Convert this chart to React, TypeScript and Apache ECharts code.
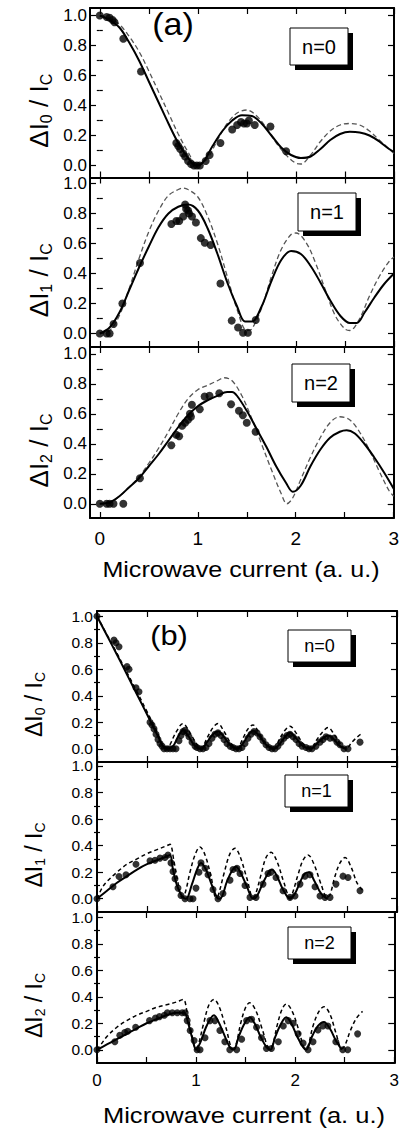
import React, { useEffect, useRef } from "react";
import * as echarts from "echarts";

// ---------- tick / label values ----------
const yMajorTicks = [0, 0.2, 0.4, 0.6, 0.8, 1.0];
const yMinorTicks = [0.1, 0.3, 0.5, 0.7, 0.9];
const xTicks = [0, 0.5, 1, 1.5, 2, 2.5, 3];
const xLabelValues = [0, 1, 2, 3];
const panelNames = ["n=0", "n=1", "n=2"];
const panelSubs = ["0", "1", "2"];
const figLabels = ["(a)", "(b)"];
const xTitle = "Microwave current (a. u.)";

// ---------- figure (a) ----------
const a1Scatter = [[0, 1.0], [0.07, 0.99], [0.1, 0.985], [0.13, 0.97], [0.15, 0.955], [0.24, 0.845], [0.42, 0.627], [0.78, 0.15], [0.8, 0.13], [0.82, 0.11], [0.85, 0.08], [0.87, 0.06], [0.9, 0.03], [0.93, 0.01], [0.96, 0.0], [0.99, 0.0], [1.02, 0.0], [1.08, 0.03], [1.12, 0.07], [1.23, 0.15], [1.35, 0.24], [1.4, 0.27], [1.44, 0.29], [1.47, 0.28], [1.5, 0.28], [1.52, 0.3], [1.58, 0.27], [1.74, 0.26], [1.9, 0.095]];
const a1Solid = [[0, 1.0], [0.1, 0.97], [0.2, 0.92], [0.3, 0.82], [0.4, 0.7], [0.5, 0.56], [0.6, 0.42], [0.7, 0.28], [0.8, 0.15], [0.9, 0.05], [0.98, 0.0], [1.05, 0.02], [1.15, 0.13], [1.25, 0.23], [1.35, 0.3], [1.45, 0.335], [1.55, 0.33], [1.65, 0.28], [1.75, 0.2], [1.85, 0.12], [1.95, 0.07], [2.05, 0.05], [2.15, 0.06], [2.25, 0.11], [2.35, 0.17], [2.45, 0.21], [2.55, 0.225], [2.65, 0.22], [2.75, 0.2], [2.85, 0.16], [2.95, 0.11], [3.0, 0.09]];
const a1Dashed = [[0, 1.0], [0.1, 0.98], [0.2, 0.94], [0.3, 0.86], [0.4, 0.76], [0.5, 0.63], [0.6, 0.49], [0.7, 0.35], [0.8, 0.21], [0.9, 0.09], [1.0, 0.0], [1.1, 0.05], [1.2, 0.17], [1.3, 0.28], [1.4, 0.35], [1.5, 0.37], [1.6, 0.33], [1.7, 0.25], [1.8, 0.15], [1.9, 0.07], [2.0, 0.015], [2.05, 0.01], [2.15, 0.07], [2.25, 0.16], [2.35, 0.23], [2.45, 0.27], [2.55, 0.28], [2.65, 0.27], [2.75, 0.23], [2.85, 0.17], [2.95, 0.11], [3.0, 0.08]];

const a2Scatter = [[0, 0.0], [0.07, 0.0], [0.1, 0.0], [0.14, 0.063], [0.23, 0.2], [0.41, 0.47], [0.73, 0.73], [0.78, 0.75], [0.81, 0.75], [0.85, 0.78], [0.87, 0.86], [0.88, 0.83], [0.9, 0.82], [0.91, 0.8], [0.94, 0.78], [0.98, 0.74], [1.03, 0.636], [1.07, 0.605], [1.13, 0.59], [1.23, 0.333], [1.345, 0.086], [1.41, 0.04], [1.46, 0.005], [1.51, 0.005], [1.59, 0.09]];
const a2Solid = [[0, 0.0], [0.1, 0.04], [0.2, 0.14], [0.3, 0.29], [0.4, 0.44], [0.5, 0.58], [0.6, 0.71], [0.7, 0.8], [0.8, 0.845], [0.9, 0.86], [1.0, 0.82], [1.1, 0.7], [1.2, 0.53], [1.3, 0.34], [1.4, 0.18], [1.48, 0.08], [1.55, 0.08], [1.65, 0.18], [1.75, 0.35], [1.85, 0.49], [1.95, 0.55], [2.05, 0.53], [2.15, 0.45], [2.25, 0.34], [2.35, 0.22], [2.45, 0.12], [2.55, 0.07], [2.62, 0.07], [2.7, 0.14], [2.8, 0.24], [2.9, 0.33], [3.0, 0.4]];
const a2Dashed = [[0, 0.0], [0.1, 0.02], [0.2, 0.12], [0.3, 0.3], [0.4, 0.5], [0.5, 0.68], [0.6, 0.82], [0.7, 0.92], [0.8, 0.96], [0.85, 0.97], [0.9, 0.96], [1.0, 0.91], [1.1, 0.78], [1.2, 0.6], [1.3, 0.38], [1.4, 0.16], [1.5, 0.02], [1.55, 0.03], [1.65, 0.17], [1.75, 0.38], [1.85, 0.56], [1.95, 0.66], [2.0, 0.67], [2.1, 0.61], [2.2, 0.47], [2.3, 0.29], [2.4, 0.12], [2.5, 0.03], [2.55, 0.02], [2.65, 0.1], [2.75, 0.25], [2.85, 0.38], [2.95, 0.48], [3.0, 0.51]];

const a3Scatter = [[0, 0.0], [0.07, 0.0], [0.1, 0.0], [0.14, 0.0], [0.24, 0.0], [0.41, 0.17], [0.73, 0.39], [0.78, 0.46], [0.81, 0.45], [0.84, 0.52], [0.87, 0.54], [0.9, 0.56], [0.92, 0.6], [0.94, 0.66], [0.93, 0.58], [1.02, 0.63], [1.07, 0.715], [1.12, 0.72], [1.22, 0.737], [1.34, 0.663], [1.42, 0.62], [1.46, 0.59], [1.5, 0.54], [1.59, 0.48]];
const a3Solid = [[0, 0.0], [0.1, 0.01], [0.2, 0.05], [0.3, 0.11], [0.4, 0.17], [0.5, 0.25], [0.6, 0.33], [0.7, 0.42], [0.8, 0.51], [0.9, 0.59], [1.0, 0.65], [1.1, 0.69], [1.2, 0.72], [1.3, 0.745], [1.35, 0.745], [1.4, 0.72], [1.5, 0.62], [1.6, 0.5], [1.7, 0.38], [1.8, 0.25], [1.9, 0.14], [1.97, 0.08], [2.05, 0.12], [2.15, 0.25], [2.25, 0.36], [2.35, 0.44], [2.45, 0.48], [2.52, 0.49], [2.6, 0.47], [2.7, 0.4], [2.8, 0.31], [2.9, 0.21], [3.0, 0.1]];
const a3Dashed = [[0, 0.0], [0.1, 0.005], [0.2, 0.05], [0.3, 0.11], [0.4, 0.18], [0.5, 0.27], [0.6, 0.37], [0.7, 0.48], [0.8, 0.6], [0.9, 0.7], [1.0, 0.76], [1.1, 0.79], [1.2, 0.82], [1.27, 0.84], [1.35, 0.82], [1.45, 0.72], [1.55, 0.57], [1.65, 0.4], [1.75, 0.23], [1.85, 0.07], [1.91, 0.0], [1.97, 0.04], [2.05, 0.16], [2.15, 0.31], [2.25, 0.44], [2.35, 0.54], [2.45, 0.58], [2.55, 0.56], [2.65, 0.48], [2.75, 0.36], [2.85, 0.22], [2.95, 0.09], [3.0, 0.05]];

// ---------- figure (b) ----------
const b1Scatter = [[0, 1.0], [0.17, 0.82], [0.19, 0.8], [0.22, 0.77], [0.3, 0.62], [0.32, 0.6], [0.39, 0.46], [0.42, 0.43], [0.53, 0.2], [0.55, 0.18], [0.57, 0.15], [0.59, 0.11], [0.61, 0.07], [0.63, 0.04], [0.65, 0.02], [0.67, 0.0], [0.7, 0.0], [0.73, 0.0], [0.76, 0.0], [0.79, 0.0], [0.82, 0.06], [0.84, 0.1], [0.86, 0.13], [0.88, 0.14], [0.9, 0.12], [0.92, 0.09], [0.95, 0.05], [0.98, 0.02], [1.0, 0.01], [1.03, 0.0], [1.06, 0.0], [1.09, 0.01], [1.12, 0.04], [1.15, 0.08], [1.18, 0.11], [1.21, 0.12], [1.24, 0.1], [1.27, 0.07], [1.3, 0.04], [1.33, 0.02], [1.36, 0.01], [1.39, 0.0], [1.42, 0.0], [1.45, 0.01], [1.48, 0.04], [1.51, 0.08], [1.54, 0.11], [1.57, 0.13], [1.6, 0.12], [1.63, 0.09], [1.66, 0.06], [1.69, 0.03], [1.72, 0.01], [1.75, 0.0], [1.78, 0.0], [1.81, 0.02], [1.84, 0.05], [1.87, 0.08], [1.9, 0.1], [1.93, 0.11], [1.96, 0.09], [1.99, 0.07], [2.02, 0.04], [2.05, 0.02], [2.09, 0.01], [2.12, 0.0], [2.15, 0.0], [2.19, 0.02], [2.23, 0.05], [2.26, 0.07], [2.29, 0.09], [2.33, 0.08], [2.37, 0.08], [2.4, 0.05], [2.43, 0.03], [2.47, 0.0], [2.51, 0.0], [2.63, 0.05]];
const b1Solid = [[0, 1.0], [0.1, 0.855], [0.2, 0.71], [0.3, 0.56], [0.4, 0.41], [0.5, 0.26], [0.6, 0.11], [0.66, 0.02], [0.7, 0.0], [0.76, 0.02], [0.81, 0.09], [0.86, 0.14], [0.91, 0.1], [0.97, 0.03], [1.04, 0.0], [1.1, 0.05], [1.16, 0.11], [1.21, 0.13], [1.27, 0.09], [1.33, 0.03], [1.4, 0.0], [1.46, 0.04], [1.51, 0.1], [1.56, 0.135], [1.62, 0.1], [1.69, 0.03], [1.77, 0.0], [1.83, 0.04], [1.88, 0.09], [1.93, 0.12], [1.99, 0.08], [2.06, 0.02], [2.14, 0.0], [2.2, 0.04], [2.26, 0.08], [2.31, 0.1], [2.37, 0.07], [2.43, 0.02], [2.49, 0.0]];
const b1Dashed = [[0, 1.0], [0.1, 0.86], [0.2, 0.72], [0.3, 0.575], [0.4, 0.43], [0.5, 0.28], [0.6, 0.13], [0.68, 0.01], [0.72, 0.02], [0.78, 0.11], [0.86, 0.19], [0.93, 0.12], [1.0, 0.03], [1.04, 0.0], [1.1, 0.08], [1.16, 0.16], [1.21, 0.19], [1.27, 0.13], [1.34, 0.04], [1.4, 0.0], [1.46, 0.08], [1.51, 0.15], [1.56, 0.18], [1.62, 0.12], [1.7, 0.03], [1.77, 0.0], [1.83, 0.08], [1.88, 0.14], [1.93, 0.17], [1.99, 0.12], [2.07, 0.03], [2.14, 0.0], [2.2, 0.07], [2.26, 0.13], [2.31, 0.16], [2.37, 0.11], [2.44, 0.03], [2.49, 0.0], [2.55, 0.05], [2.62, 0.1], [2.66, 0.12]];

const b2Scatter = [[0, 0.0], [0.16, 0.09], [0.22, 0.167], [0.29, 0.18], [0.39, 0.26], [0.53, 0.286], [0.58, 0.29], [0.63, 0.306], [0.68, 0.31], [0.71, 0.33], [0.74, 0.27], [0.76, 0.205], [0.78, 0.15], [0.81, 0.08], [0.84, 0.025], [0.88, 0.0], [0.93, 0.0], [0.96, 0.0], [0.99, 0.08], [1.02, 0.2], [1.04, 0.27], [1.08, 0.23], [1.11, 0.18], [1.16, 0.07], [1.21, 0.0], [1.26, 0.04], [1.33, 0.14], [1.36, 0.22], [1.4, 0.23], [1.43, 0.19], [1.48, 0.1], [1.53, 0.01], [1.59, 0.01], [1.66, 0.11], [1.71, 0.19], [1.74, 0.2], [1.79, 0.16], [1.86, 0.06], [1.93, 0.01], [1.98, 0.02], [2.03, 0.11], [2.08, 0.17], [2.13, 0.18], [2.18, 0.09], [2.23, 0.02], [2.28, 0.01], [2.33, 0.01], [2.39, 0.11], [2.46, 0.17], [2.51, 0.16], [2.63, 0.06]];
const b2Solid = [[0, 0.0], [0.05, 0.03], [0.1, 0.06], [0.2, 0.12], [0.3, 0.17], [0.4, 0.22], [0.5, 0.26], [0.6, 0.29], [0.7, 0.32], [0.73, 0.33], [0.76, 0.22], [0.8, 0.1], [0.85, 0.02], [0.89, 0.0], [0.95, 0.11], [1.0, 0.22], [1.04, 0.27], [1.09, 0.22], [1.14, 0.12], [1.2, 0.01], [1.23, 0.0], [1.3, 0.13], [1.35, 0.21], [1.39, 0.24], [1.44, 0.19], [1.5, 0.09], [1.56, 0.0], [1.6, 0.02], [1.66, 0.12], [1.71, 0.19], [1.75, 0.22], [1.8, 0.17], [1.86, 0.07], [1.93, 0.0], [1.98, 0.04], [2.04, 0.14], [2.08, 0.19], [2.12, 0.2], [2.17, 0.14], [2.24, 0.04], [2.3, 0.0]];
const b2Dashed = [[0, 0.0], [0.05, 0.08], [0.1, 0.13], [0.2, 0.2], [0.3, 0.26], [0.4, 0.3], [0.5, 0.34], [0.6, 0.37], [0.7, 0.4], [0.73, 0.41], [0.77, 0.28], [0.81, 0.12], [0.85, 0.01], [0.88, 0.04], [0.93, 0.2], [0.98, 0.33], [1.03, 0.39], [1.08, 0.33], [1.14, 0.17], [1.19, 0.01], [1.21, 0.02], [1.27, 0.19], [1.33, 0.34], [1.38, 0.38], [1.43, 0.32], [1.5, 0.15], [1.56, 0.01], [1.58, 0.02], [1.64, 0.18], [1.69, 0.31], [1.74, 0.35], [1.8, 0.28], [1.87, 0.12], [1.93, 0.01], [1.95, 0.03], [2.01, 0.18], [2.06, 0.29], [2.11, 0.33], [2.17, 0.26], [2.24, 0.11], [2.3, 0.01], [2.33, 0.03], [2.38, 0.17], [2.43, 0.27], [2.48, 0.31], [2.54, 0.24], [2.6, 0.12], [2.66, 0.06]];

const b3Scatter = [[0, 0.0], [0.18, 0.06], [0.23, 0.11], [0.28, 0.13], [0.31, 0.14], [0.39, 0.17], [0.53, 0.22], [0.59, 0.24], [0.63, 0.25], [0.68, 0.26], [0.71, 0.28], [0.76, 0.28], [0.81, 0.28], [0.86, 0.28], [0.89, 0.28], [0.91, 0.22], [0.94, 0.145], [0.98, 0.07], [1.01, 0.0], [1.04, 0.0], [1.09, 0.09], [1.14, 0.22], [1.19, 0.22], [1.24, 0.145], [1.29, 0.06], [1.34, 0.0], [1.41, 0.0], [1.46, 0.08], [1.51, 0.22], [1.56, 0.23], [1.61, 0.17], [1.66, 0.09], [1.71, 0.01], [1.76, 0.01], [1.83, 0.06], [1.88, 0.18], [1.93, 0.22], [1.98, 0.2], [2.03, 0.12], [2.08, 0.05], [2.13, 0.0], [2.18, 0.06], [2.23, 0.15], [2.28, 0.18], [2.33, 0.18], [2.41, 0.06], [2.48, 0.0], [2.53, 0.0], [2.63, 0.12]];
const b3Solid = [[0, 0.0], [0.1, 0.04], [0.2, 0.08], [0.3, 0.12], [0.4, 0.16], [0.5, 0.2], [0.6, 0.23], [0.7, 0.26], [0.8, 0.28], [0.88, 0.28], [0.92, 0.2], [0.96, 0.09], [1.0, 0.0], [1.04, 0.05], [1.1, 0.17], [1.15, 0.24], [1.18, 0.26], [1.22, 0.22], [1.28, 0.12], [1.34, 0.02], [1.38, 0.0], [1.43, 0.1], [1.49, 0.2], [1.54, 0.245], [1.59, 0.2], [1.65, 0.1], [1.71, 0.02], [1.75, 0.0], [1.8, 0.1], [1.86, 0.2], [1.91, 0.245], [1.96, 0.2], [2.02, 0.1], [2.08, 0.02], [2.11, 0.0], [2.17, 0.1], [2.23, 0.18], [2.29, 0.21], [2.35, 0.16], [2.41, 0.07], [2.47, 0.0]];
const b3Dashed = [[0, 0.0], [0.05, 0.05], [0.1, 0.1], [0.2, 0.17], [0.3, 0.22], [0.4, 0.26], [0.5, 0.29], [0.6, 0.32], [0.7, 0.34], [0.8, 0.36], [0.87, 0.38], [0.91, 0.28], [0.95, 0.14], [1.0, 0.01], [1.02, 0.03], [1.08, 0.21], [1.13, 0.34], [1.18, 0.38], [1.23, 0.33], [1.3, 0.17], [1.37, 0.01], [1.4, 0.03], [1.45, 0.2], [1.5, 0.32], [1.54, 0.355], [1.6, 0.3], [1.67, 0.15], [1.74, 0.01], [1.77, 0.03], [1.82, 0.19], [1.87, 0.31], [1.91, 0.345], [1.97, 0.29], [2.04, 0.14], [2.1, 0.01], [2.13, 0.03], [2.18, 0.18], [2.24, 0.29], [2.29, 0.325], [2.35, 0.27], [2.41, 0.13], [2.47, 0.01], [2.5, 0.03], [2.56, 0.15], [2.62, 0.24], [2.68, 0.29]];

const FONT = '"Liberation Sans", Arial, Helvetica, sans-serif';

type Panel = {
  fig: number; n: number; left: number; top: number; width: number; height: number;
  xMin: number; xMax: number; yMin: number; yMax: number;
  scatter: number[][]; solid: number[][]; dashed: number[][];
  box: [number, number, number, number];
};

const panels: Panel[] = [
  { fig: 0, n: 0, left: 90, top: 8, width: 304, height: 169.5, xMin: -0.1, xMax: 3, yMin: -0.08, yMax: 1.05, scatter: a1Scatter, solid: a1Solid, dashed: a1Dashed, box: [290, 28, 58, 37] },
  { fig: 0, n: 1, left: 90, top: 177.5, width: 304, height: 169.5, xMin: -0.1, xMax: 3, yMin: -0.09, yMax: 1.04, scatter: a2Scatter, solid: a2Solid, dashed: a2Dashed, box: [298, 193, 58, 38] },
  { fig: 0, n: 2, left: 90, top: 347, width: 304, height: 171, xMin: -0.1, xMax: 3, yMin: -0.095, yMax: 1.045, scatter: a3Scatter, solid: a3Solid, dashed: a3Dashed, box: [292, 364, 58, 38] },
  { fig: 1, n: 0, left: 97, top: 611, width: 300, height: 151, xMin: 0, xMax: 3, yMin: -0.1, yMax: 1.04, scatter: b1Scatter, solid: b1Solid, dashed: b1Dashed, box: [288, 630, 63, 32] },
  { fig: 1, n: 1, left: 97, top: 762, width: 300, height: 150, xMin: 0, xMax: 3, yMin: -0.1, yMax: 1.03, scatter: b2Scatter, solid: b2Solid, dashed: b2Dashed, box: [285, 775, 63, 32] },
  { fig: 1, n: 2, left: 97, top: 912, width: 300, height: 151, xMin: 0, xMax: 3, yMin: -0.1, yMax: 1.04, scatter: b3Scatter, solid: b3Solid, dashed: b3Dashed, box: [288, 927, 63, 32] },
];

const centered = { align: "center", verticalAlign: "middle", textAlign: "center", textVerticalAlign: "middle" };

function buildOption() {
  const grid: any[] = [];
  const xAxis: any[] = [];
  const yAxis: any[] = [];
  const series: any[] = [];
  const graphic: any[] = [];

  panels.forEach((p, g) => {
    const isA = p.fig === 0;
    const isBottom = p.n === 2;
    grid.push({ left: p.left, top: p.top, width: p.width, height: p.height, containLabel: false });
    const line = { show: true, onZero: false, lineStyle: { color: "#000", width: 2 } };
    const tickStyle = { color: "#000", width: 1.2 };
    xAxis.push({
      gridIndex: g, type: "value", min: p.xMin, max: p.xMax, position: "bottom",
      axisLine: line,
      axisTick: { show: true, inside: true, length: 6, customValues: xTicks, lineStyle: tickStyle },
      axisLabel: {
        show: isBottom, customValues: xLabelValues, formatter: (v: number) => String(Math.round(v)),
        color: "#000", fontFamily: FONT, fontSize: isA ? 19 : 17, margin: isA ? 11 : 9,
      },
      splitLine: { show: false },
    });
    xAxis.push({
      gridIndex: g, type: "value", min: p.xMin, max: p.xMax, position: "top",
      axisLine: line,
      axisTick: { show: true, inside: true, length: 6, customValues: xTicks, lineStyle: tickStyle },
      axisLabel: { show: false },
      splitLine: { show: false },
    });
    const ySets = [
      { pos: "left", label: true, ticks: yMajorTicks, len: 6, line: true },
      { pos: "left", label: false, ticks: yMinorTicks, len: 3, line: false },
      { pos: "right", label: false, ticks: yMajorTicks, len: 6, line: true },
      { pos: "right", label: false, ticks: yMinorTicks, len: 3, line: false },
    ];
    ySets.forEach((s) => {
      yAxis.push({
        gridIndex: g, type: "value", min: p.yMin, max: p.yMax, position: s.pos, offset: 0,
        axisLine: s.line ? line : { show: false },
        axisTick: { show: true, inside: true, length: s.len, customValues: s.ticks, lineStyle: tickStyle },
        axisLabel: {
          show: s.label, customValues: yMajorTicks, formatter: (v: number) => v.toFixed(1),
          color: "#000", fontFamily: FONT, fontSize: isA ? 17 : 15.5, lineHeight: isA ? 17 : 15.5, margin: isA ? 3 : 4,
        },
        splitLine: { show: false },
      });
    });
    const xi = g * 2;
    const yi = g * 4;
    series.push({
      type: "line", xAxisIndex: xi, yAxisIndex: yi, data: p.dashed, showSymbol: false, smooth: 0.35,
      lineStyle: { color: isA ? "#555" : "#000", width: isA ? 1.3 : 1.5, type: isA ? [5, 3] : [4, 3] },
      z: 2, silent: true,
    });
    series.push({
      type: "line", xAxisIndex: xi, yAxisIndex: yi, data: p.solid, showSymbol: false, smooth: 0.35,
      lineStyle: { color: "#000", width: 2 }, z: 3, silent: true,
    });
    series.push({
      type: "scatter", xAxisIndex: xi, yAxisIndex: yi, data: p.scatter, symbol: "circle",
      symbolSize: isA ? 8 : 7, itemStyle: { color: "#000" }, z: 4, silent: true,
    });

    const [bx, by, bw, bh] = p.box;
    graphic.push({ type: "rect", shape: { x: bx + 5, y: by + 5, width: bw, height: bh }, style: { fill: "#000" }, z: 10 });
    graphic.push({ type: "rect", shape: { x: bx, y: by, width: bw, height: bh }, style: { fill: "#fff", stroke: "#000", lineWidth: 1 }, z: 11 });
    graphic.push({
      type: "text", x: bx + bw / 2, y: by + bh / 2, z: 12,
      style: { text: panelNames[p.n], font: `${isA ? 20 : 18}px ${FONT}`, fill: "#000", ...centered },
    });

    const fs = isA ? 26 : 23;
    const ss = Math.round(fs * 0.62);
    graphic.push({
      type: "text", x: isA ? 39 : 34, y: p.top + p.height / 2 + 18, rotation: Math.PI / 2, z: 12,
      style: {
        text: `{m|ΔI}{s|${panelSubs[p.n]}}{m| / I}{s|C}`,
        ...centered,
        rich: {
          m: { fontFamily: FONT, fontSize: fs, lineHeight: fs, fill: "#000", color: "#000", verticalAlign: "middle" },
          s: { fontFamily: FONT, fontSize: ss, lineHeight: ss, fill: "#000", color: "#000", padding: [fs * 0.55, 0, 0, 0], verticalAlign: "middle" },
        },
      },
    });
  });

  graphic.push({ type: "text", x: 173, y: 25, scaleX: 1.1, z: 12, style: { text: figLabels[0], font: `31px ${FONT}`, fill: "#000", ...centered } });
  graphic.push({ type: "text", x: 169, y: 635, scaleX: 1.1, z: 12, style: { text: figLabels[1], font: `28px ${FONT}`, fill: "#000", ...centered } });
  graphic.push({ type: "text", x: 241, y: 570, scaleX: 1.14, z: 12, style: { text: xTitle, font: `22px ${FONT}`, fill: "#000", ...centered } });
  graphic.push({ type: "text", x: 244, y: 1115, scaleX: 1.16, z: 12, style: { text: xTitle, font: `22px ${FONT}`, fill: "#000", ...centered } });

  return { animation: false, backgroundColor: "#fff", grid, xAxis, yAxis, series, graphic };
}

export default function App() {
  const ref = useRef<HTMLDivElement>(null);
  useEffect(() => {
    document.body.style.margin = "0";
    if (!ref.current) return;
    const chart = echarts.init(ref.current, undefined, { renderer: "svg" });
    chart.setOption(buildOption() as any);
    return () => chart.dispose();
  }, []);
  return <div ref={ref} style={{ width: 402, height: 1131 }} />;
}
